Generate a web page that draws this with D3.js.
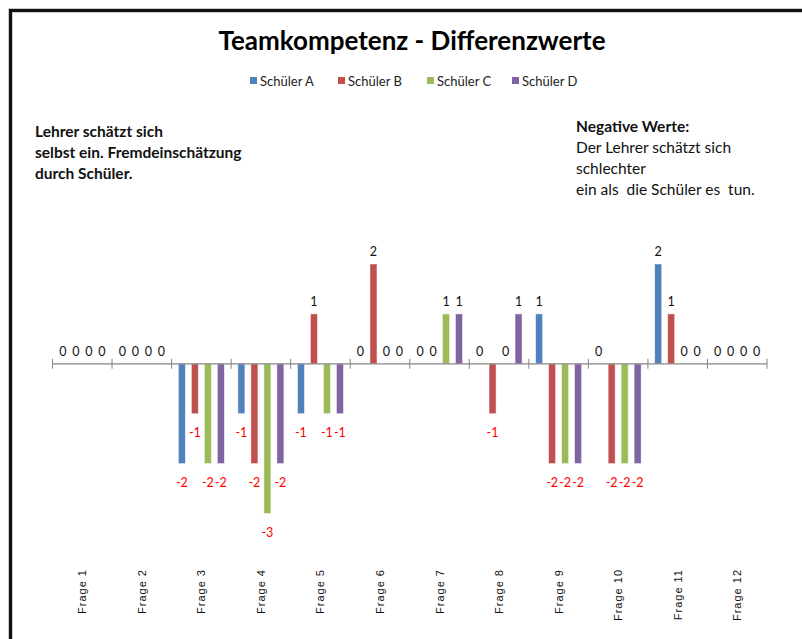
<!doctype html>
<html>
<head>
<meta charset="utf-8">
<script src="https://d3js.org/d3.v7.min.js"></script>
<style>
body {margin:0; background:#fff;}
svg {display:block; font-family: Lato, "Open Sans", sans-serif;}
</style>
</head>
<body>
<svg id="chart" width="802" height="639"></svg>
<script>
// data
var categories = ["Frage 1","Frage 2","Frage 3","Frage 4","Frage 5","Frage 6","Frage 7","Frage 8","Frage 9","Frage 10","Frage 11","Frage 12"];
var seriesNames = ["Schüler A","Schüler B","Schüler C","Schüler D"];
var schuelerA = [0, 0, -2, -1, -1, 0, 0, 0, 1, 0, 2, 0];
var schuelerB = [0, 0, -1, -2, 1, 2, 0, -1, -2, -2, 1, 0];
var schuelerC = [0, 0, -2, -3, -1, 0, 1, 0, -2, -2, 0, 0];
var schuelerD = [0, 0, -2, -2, -1, 0, 1, 1, -2, -2, 0, 0];
var colors = ["#4f81bd", "#c0504d", "#9bbb59", "#8064a2"];
var leftNote = ["Lehrer schätzt sich", "selbst ein. Fremdeinschätzung", "durch Schüler."];
var rightNote = ["Der Lehrer schätzt sich", "schlechter", "ein als  die Schüler es  tun."];

var allSeries = [schuelerA, schuelerB, schuelerC, schuelerD];

var svg = d3.select("#chart");

// frame (thick border, cut off right and bottom)
svg.append("path")
  .attr("d", "M10.5,650 L10.5,10.5 L810,10.5")
  .attr("fill", "none")
  .attr("stroke", "#ccc")
  .attr("stroke-width", 5);
svg.append("path")
  .attr("d", "M10.5,650 L10.5,10.5 L810,10.5")
  .attr("fill", "none")
  .attr("stroke", "#111")
  .attr("stroke-width", 3);

// title
svg.append("text")
  .attr("x", 412).attr("y", 50)
  .attr("text-anchor", "middle")
  .style("font-size", "26px")
  .style("font-weight", "bold")
  .style("fill", "#000")
  .text("Teamkompetenz - Differenzwerte");

// legend
var legendX = [250, 338, 427, 512];
var legend = svg.append("g");
seriesNames.forEach(function(name, i) {
  legend.append("rect")
    .attr("x", legendX[i]).attr("y", 77)
    .attr("width", 7).attr("height", 7)
    .style("fill", colors[i]);
  legend.append("text")
    .attr("x", legendX[i] + 10).attr("y", 85.5)
    .style("font-size", "13px")
    .style("fill", "#222")
    .text(name);
});

// notes
svg.append("g").selectAll("text")
  .data(leftNote).enter().append("text")
  .attr("x", 35)
  .attr("y", function(d, i) { return 137 + i * 21; })
  .style("font-size", "15.5px")
  .style("font-weight", "bold")
  .style("fill", "#111")
  .text(function(d) { return d; });

svg.append("text")
  .attr("x", 576).attr("y", 132)
  .style("font-size", "15.5px")
  .style("font-weight", "bold")
  .style("fill", "#111")
  .text("Negative Werte:");
svg.append("g").selectAll("text")
  .data(rightNote).enter().append("text")
  .attr("x", 576)
  .attr("y", function(d, i) { return 153 + i * 21; })
  .style("font-size", "15.5px")
  .style("fill", "#111")
  .style("white-space", "pre")
  .text(function(d) { return d; });

// scales
var x0 = d3.scaleBand().domain(categories).range([52.5, 767]).padding(0);
var x1 = d3.scaleBand().domain(seriesNames).range([0, x0.bandwidth()])
  .paddingInner(0.46).paddingOuter(0.52);
var y = d3.scaleLinear().domain([-3, 2]).range([513.5, 264]);

// bars
var groups = svg.append("g").selectAll("g")
  .data(categories).enter().append("g")
  .attr("transform", function(d) { return "translate(" + x0(d) + ",0)"; });

groups.selectAll("rect")
  .data(function(d, ci) {
    return allSeries.map(function(s, si) { return {s: si, v: s[ci]}; });
  })
  .enter().append("rect")
  .filter(function(d) { return d.v !== 0; })
  .attr("x", function(d) { return x1(seriesNames[d.s]); })
  .attr("y", function(d) { return y(Math.max(0, d.v)); })
  .attr("width", x1.bandwidth())
  .attr("height", function(d) { return Math.abs(y(d.v) - y(0)); })
  .style("fill", function(d) { return colors[d.s]; })
  .style("stroke", "rgba(255,255,255,0.6)")
  .style("stroke-width", 0.8);

// axis at zero
var axis = svg.append("g")
  .attr("transform", "translate(0," + y(0) + ")");
axis.append("line")
  .attr("x1", 52.5).attr("x2", 767)
  .attr("stroke", "#868686").attr("stroke-width", 1.3);
var tickPos = categories.map(function(c) { return x0(c); }).concat([767]);
axis.selectAll(".tk")
  .data(tickPos).enter().append("line")
  .attr("class", "tk")
  .attr("x1", function(d) { return d; }).attr("x2", function(d) { return d; })
  .attr("y1", -5).attr("y2", 5)
  .attr("stroke", "#868686").attr("stroke-width", 1);

// value labels
groups.selectAll("text.val")
  .data(function(d, ci) {
    return allSeries.map(function(s, si) { return {s: si, v: s[ci]}; });
  })
  .enter().append("text")
  .attr("class", "val")
  .attr("x", function(d) { return x1(seriesNames[d.s]) + x1.bandwidth() / 2; })
  .attr("y", function(d) { return d.v < 0 ? y(d.v) + 23 : y(d.v) - 8; })
  .attr("text-anchor", "middle")
  .style("font-size", "12.5px")
  .style("fill", function(d) { return d.v < 0 ? "#ff0000" : "#111"; })
  .text(function(d) { return d.v; });

// category labels (rotated)
svg.append("g").selectAll("text")
  .data(categories).enter().append("text")
  .attr("transform", function(d) {
    return "translate(" + (x0(d) + x0.bandwidth() / 2 + 4) + ",569) rotate(-90)";
  })
  .attr("text-anchor", "end")
  .style("font-family", "'Liberation Sans', Arial, sans-serif")
  .style("font-size", "11px")
  .style("letter-spacing", "1px")
  .style("fill", "#111")
  .text(function(d) { return d; });
</script>
</body>
</html>
